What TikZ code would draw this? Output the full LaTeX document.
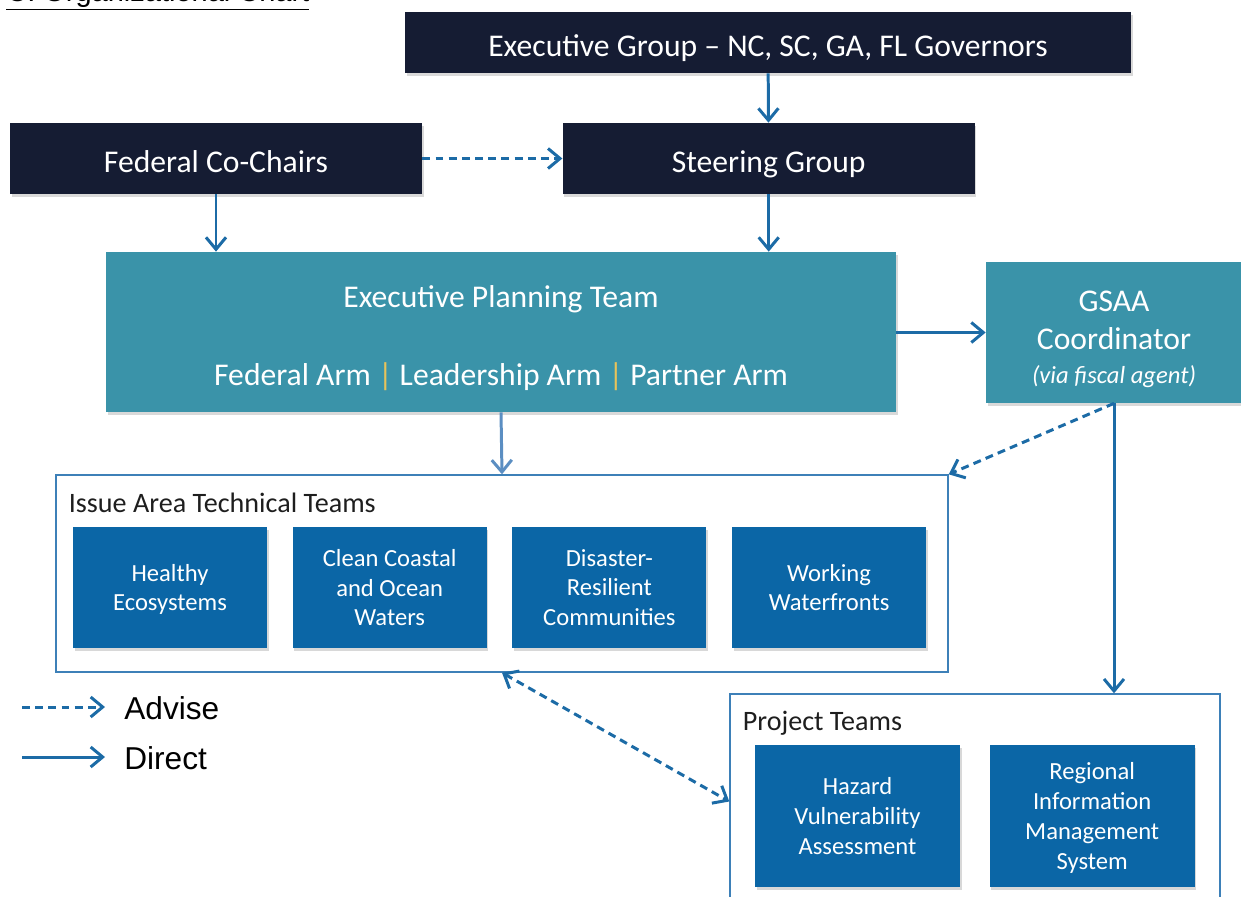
\documentclass[tikz,border=0pt]{standalone}
\usepackage{fontspec}
\setmainfont{Carlito}
\newfontfamily\arialfont{Liberation Sans}
\usetikzlibrary{arrows.meta, positioning, shadows}

\definecolor{navybox}{HTML}{151C33}
\definecolor{eptteal}{HTML}{3A93A9}
\definecolor{teamblue}{HTML}{0B66A6}
\definecolor{linkblue}{HTML}{1C6BA6}
\definecolor{softblue}{HTML}{5B8EC2}
\definecolor{frameblue}{HTML}{3D80B8}
\definecolor{sepgold}{HTML}{E8C35A}
\definecolor{labelgray}{HTML}{1E1E1E}

\begin{document}
\begin{tikzpicture}[
    every node/.style={inner sep=2pt},
    header/.style={
        rectangle,
        fill=navybox,
        text=white,
        align=center,
        minimum height=1.42cm,
        text height=16pt,
        text depth=0pt,
        font=\fontsize{18}{21.6}\selectfont,
        drop shadow={shadow xshift=0.03cm, shadow yshift=-0.05cm, opacity=0.3}
    },
    planning/.style={
        rectangle,
        fill=eptteal,
        text=white,
        align=center,
        font=\fontsize{18}{21.6}\selectfont,
        drop shadow={shadow xshift=0.03cm, shadow yshift=-0.05cm, opacity=0.3}
    },
    frame/.style={
        rectangle,
        draw=frameblue,
        line width=0.8pt,
        fill=white
    },
    team/.style={
        rectangle,
        fill=teamblue,
        text=white,
        align=center,
        minimum width=3.88cm,
        minimum height=2.42cm,
        text depth=0pt,
        font=\fontsize{14}{17}\selectfont,
        drop shadow={shadow xshift=0.03cm, shadow yshift=-0.05cm, opacity=0.3}
    },
    framelabel/.style={
        anchor=west,
        text=labelgray,
        font=\fontsize{16}{19}\selectfont
    },
    legendtext/.style={
        anchor=west,
        inner sep=0pt,
        font=\arialfont\fontsize{18}{21}\selectfont
    },
    arrow/.style={
        -{Straight Barb[length=2.4mm, width=4mm]},
        line width=1.7pt,
        draw=linkblue
    },
    advise/.style={
        arrow,
        dash pattern=on 4.5pt off 3pt
    }
]

\useasboundingbox (0,0) rectangle (24.82,-17.92);

% Title
\node[anchor=base west, inner sep=0pt, font=\arialfont\fontsize{16.5}{20}\selectfont] (title) at (0.12,-0.02) {\underline{C. Organizational Chart}};

% Top level
\node[header, minimum width=14.52cm, minimum height=1.22cm] (execgrp) at (15.36,-0.85) {Executive Group -- NC, SC, GA, FL Governors};
\node[header, minimum width=8.24cm] (cochairs) at (4.32,-3.17) {Federal Co-Chairs};
\node[header, minimum width=8.24cm, right=2.8cm of cochairs] (steering) {Steering Group};

% Planning level
\node[planning, minimum width=15.8cm, minimum height=3.2cm, text height=64pt] (ept) at (10.02,-6.64) {Executive Planning Team\\[23pt]Federal Arm {\color{sepgold}|} Leadership Arm {\color{sepgold}|} Partner Arm};
\node[planning, minimum width=5.12cm, minimum height=2.82cm, text height=60.6pt] (gsaa) at (22.28,-6.65) {GSAA\\Coordinator\\[-2.3pt]{\fontsize{14}{17}\selectfont\itshape (via fiscal agent)}};

% Issue area teams
\node[frame, minimum width=17.84cm, minimum height=3.94cm] (issue) at (10.04,-11.47) {};
\node[framelabel] (issuelbl) at (1.3,-10.06) {Issue Area Technical Teams};
\node[team] (healthy) at (3.4,-11.75) {Healthy\\Ecosystems};
\node[team, right=0.5cm of healthy] (clean) {Clean Coastal\\and Ocean\\Waters};
\node[team, right=0.5cm of clean] (disaster) {Disaster-\\Resilient\\Communities};
\node[team, right=0.5cm of disaster] (working) {Working\\Waterfronts};

% Project teams
\node[frame, minimum width=9.8cm, minimum height=4.3cm] (project) at (19.5,-16.03) {};
\node[framelabel] (projectlbl) at (14.78,-14.47) {Project Teams};
\node[team, minimum width=4.1cm, minimum height=2.84cm] (hazard) at (17.15,-16.32) {Hazard\\Vulnerability\\Assessment};
\node[team, minimum width=4.1cm, minimum height=2.84cm, right=0.58cm of hazard] (regional) {Regional\\Information\\Management\\System};

% Legend
\coordinate (advstart) at (0.44,-14.14);
\coordinate (advend) at (2.1,-14.14);
\coordinate (dirstart) at (0.44,-15.14);
\coordinate (dirend) at (2.1,-15.14);
\node[legendtext] (advlbl) at (2.48,-14.16) {Advise};
\node[legendtext] (dirlbl) at (2.48,-15.16) {Direct};
\draw[advise] (advstart) -- (advend);
\draw[arrow] (dirstart) -- (dirend);

% Connectors
\draw[arrow] (execgrp) -- (steering);
\draw[advise] (cochairs) -- (steering);
\draw[arrow] (cochairs.south) -- (cochairs.south |- ept.north);
\draw[arrow] (steering.south) -- (steering.south |- ept.north);
\draw[arrow] (ept.east |- gsaa.west) -- (gsaa.west);
\draw[arrow, draw=softblue] (ept.south) -- (issue.north);
\draw[advise] (gsaa.south) -- (issue.north east);
\draw[arrow] (gsaa.south) -- (gsaa.south |- project.north);
\draw[advise, {Straight Barb[length=2.4mm, width=4mm]}-{Straight Barb[length=2.4mm, width=4mm]}] (issue.south) -- (project.west);

\end{tikzpicture}
\end{document}
